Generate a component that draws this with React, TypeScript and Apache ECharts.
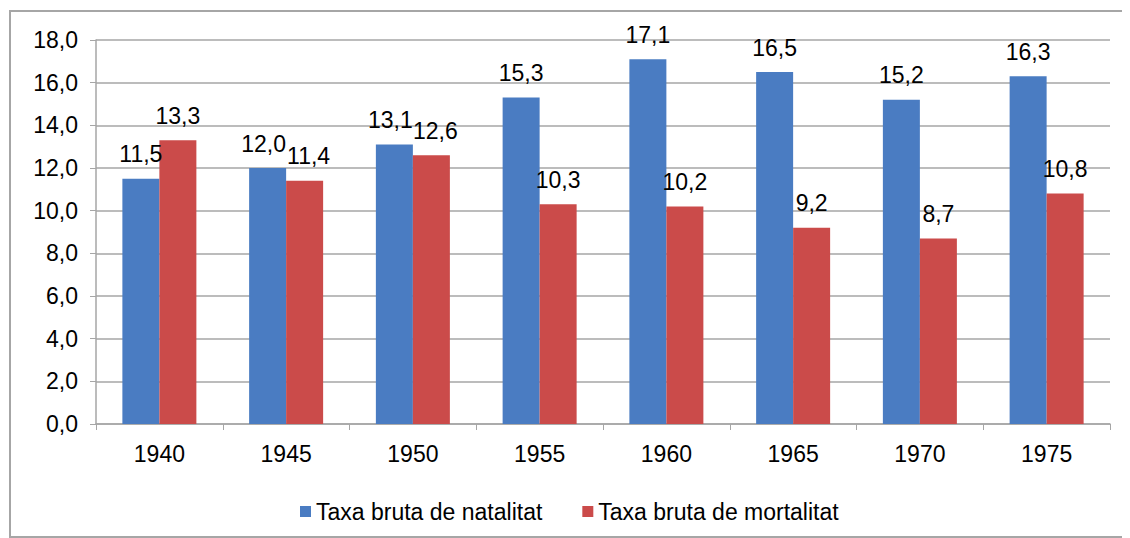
import React, { useEffect, useRef } from "react";
import * as echarts from "echarts";

const categories = ["1940", "1945", "1950", "1955", "1960", "1965", "1970", "1975"];
const natalitat = [11.5, 12.0, 13.1, 15.3, 17.1, 16.5, 15.2, 16.3];
const mortalitat = [13.3, 11.4, 12.6, 10.3, 10.2, 9.2, 8.7, 10.8];
const seriesNames = ["Taxa bruta de natalitat", "Taxa bruta de mortalitat"];

const fmt = (v: number) => v.toFixed(1).replace(".", ",");

export default function App() {
  const ref = useRef<HTMLDivElement>(null);
  useEffect(() => {
    if (!ref.current) return;
    const chart = echarts.init(ref.current, null, { renderer: "svg" });
    const font = "Arial, 'Liberation Sans', sans-serif";
    const fs = 23;
    const labelCfg = {
      show: true,
      position: "top",
      distance: 13,
      fontSize: fs,
      color: "#000",
      fontFamily: font,
      formatter: (p: any) => fmt(p.value),
    };
    // nudge labels apart where neighbouring bars have similar heights
    const crowded = (i: number) => Math.abs(natalitat[i] - mortalitat[i]) < 1;
    const natData = natalitat.map((v, i) =>
      crowded(i) ? { value: v, label: { offset: [-4, 0] } } : v
    );
    const morData = mortalitat.map((v, i) =>
      crowded(i) ? { value: v, label: { offset: [4, 0] } } : v
    );
    chart.setOption({
      animation: false,
      backgroundColor: "#ffffff",
      textStyle: { fontFamily: font },
      graphic: [
        {
          type: "rect",
          shape: { x: 2, y: 3, width: 1140, height: 526 },
          style: { fill: "none", stroke: "#a6a6a6", lineWidth: 2 },
          silent: true,
        },
      ],
      grid: { left: 88, right: 20, top: 32, bottom: 114, containLabel: false },
      legend: {
        top: 487,
        left: 287,
        itemWidth: 11,
        itemHeight: 11,
        itemGap: 40,
        icon: "rect",
        textStyle: { fontSize: fs, color: "#000", fontFamily: font },
        data: seriesNames,
      },
      xAxis: {
        type: "category",
        data: categories,
        axisLine: { lineStyle: { color: "#a6a6a6", width: 1.5 } },
        axisTick: { show: true, length: 6, lineStyle: { color: "#a6a6a6" } },
        axisLabel: { fontSize: fs, color: "#000", margin: 18, fontFamily: font },
      },
      yAxis: {
        type: "value",
        min: 0,
        max: 18,
        interval: 2,
        axisLine: { show: true, lineStyle: { color: "#a6a6a6", width: 1.5 } },
        axisTick: { show: true, length: 6, inside: false, lineStyle: { color: "#a6a6a6" } },
        axisLabel: { fontSize: fs, color: "#000", margin: 18, formatter: (v: number) => fmt(v), fontFamily: font },
        splitLine: { lineStyle: { color: "#a6a6a6", width: 1.5 } },
      },
      series: [
        {
          name: seriesNames[0],
          type: "bar",
          data: natData,
          barWidth: 37,
          barGap: "0%",
          itemStyle: { color: "#4A7CC2" },
          label: labelCfg,
        },
        {
          name: seriesNames[1],
          type: "bar",
          data: morData,
          barWidth: 37,
          barGap: "0%",
          itemStyle: { color: "#CB4B4A" },
          label: labelCfg,
        },
      ],
    });
    return () => chart.dispose();
  }, []);
  return <div ref={ref} style={{ width: 1122, height: 530 }} />;
}
